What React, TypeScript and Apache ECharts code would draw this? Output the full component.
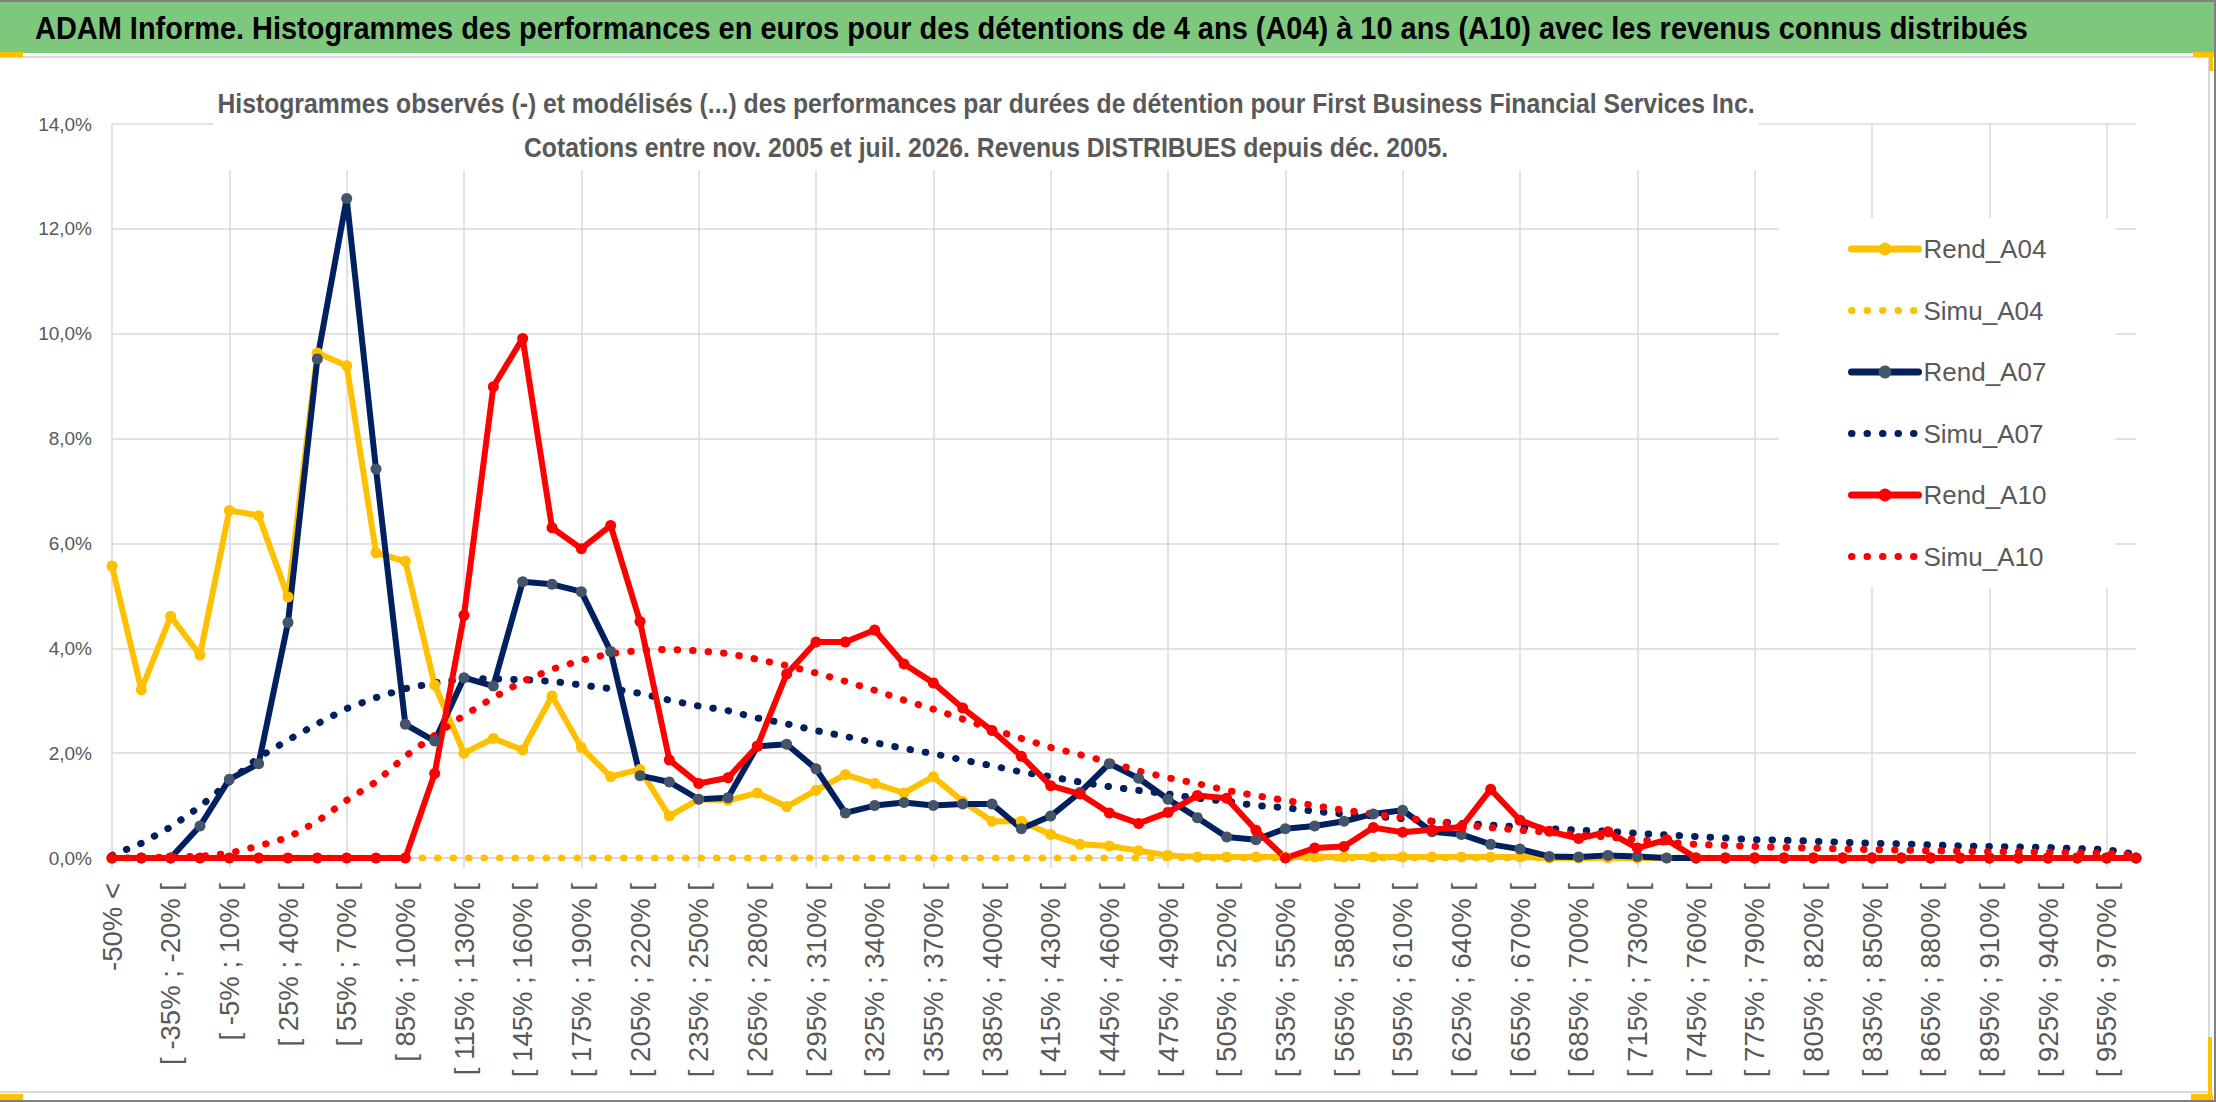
import * as echarts from "echarts";
import { useEffect, useRef } from "react";

const HEADER =
  "ADAM Informe. Histogrammes des performances en euros pour des détentions de 4 ans (A04) à 10 ans (A10) avec les revenus connus distribués";
const TITLE_1 =
  "Histogrammes observés (-) et modélisés (...) des performances par durées de détention pour First Business Financial Services Inc.";
const TITLE_2 = "Cotations entre nov. 2005 et juil. 2026. Revenus DISTRIBUES depuis déc. 2005.";

const CATEGORIES = [
  "-50% <", "[ -50% ; -35% [", "[ -35% ; -20% [", "[ -20% ; -5% [", "[ -5% ; 10% [",
  "[ 10% ; 25% [", "[ 25% ; 40% [", "[ 40% ; 55% [", "[ 55% ; 70% [", "[ 70% ; 85% [",
  "[ 85% ; 100% [", "[ 100% ; 115% [", "[ 115% ; 130% [", "[ 130% ; 145% [", "[ 145% ; 160% [",
  "[ 160% ; 175% [", "[ 175% ; 190% [", "[ 190% ; 205% [", "[ 205% ; 220% [", "[ 220% ; 235% [",
  "[ 235% ; 250% [", "[ 250% ; 265% [", "[ 265% ; 280% [", "[ 280% ; 295% [", "[ 295% ; 310% [",
  "[ 310% ; 325% [", "[ 325% ; 340% [", "[ 340% ; 355% [", "[ 355% ; 370% [", "[ 370% ; 385% [",
  "[ 385% ; 400% [", "[ 400% ; 415% [", "[ 415% ; 430% [", "[ 430% ; 445% [", "[ 445% ; 460% [",
  "[ 460% ; 475% [", "[ 475% ; 490% [", "[ 490% ; 505% [", "[ 505% ; 520% [", "[ 520% ; 535% [",
  "[ 535% ; 550% [", "[ 550% ; 565% [", "[ 565% ; 580% [", "[ 580% ; 595% [", "[ 595% ; 610% [",
  "[ 610% ; 625% [", "[ 625% ; 640% [", "[ 640% ; 655% [", "[ 655% ; 670% [", "[ 670% ; 685% [",
  "[ 685% ; 700% [", "[ 700% ; 715% [", "[ 715% ; 730% [", "[ 730% ; 745% [", "[ 745% ; 760% [",
  "[ 760% ; 775% [", "[ 775% ; 790% [", "[ 790% ; 805% [", "[ 805% ; 820% [", "[ 820% ; 835% [",
  "[ 835% ; 850% [", "[ 850% ; 865% [", "[ 865% ; 880% [", "[ 880% ; 895% [", "[ 895% ; 910% [",
  "[ 910% ; 925% [", "[ 925% ; 940% [", "[ 940% ; 955% [", "[ 955% ; 970% [", "[ 970% ; 985% [",
];

// values in %
const REND_A04 = [
  5.57, 3.21, 4.61, 3.87, 6.63, 6.53, 4.98, 9.63, 9.39, 5.82,
  5.66, 3.3, 2.0, 2.28, 2.06, 3.09, 2.11, 1.55, 1.69, 0.8,
  1.12, 1.1, 1.24, 0.98, 1.29, 1.59, 1.42, 1.24, 1.55, 1.08,
  0.7, 0.7, 0.45, 0.26, 0.23, 0.14, 0.05, 0.02, 0.02, 0.02,
  0.02, 0.02, 0.02, 0.02, 0.02, 0.02, 0.02, 0.02, 0.02, 0,
  0, 0, 0, 0, 0, 0, 0, 0, 0, 0,
  0, 0, 0, 0, 0, 0, 0, 0, 0, 0,
];
const SIMU_A04 = [
  0, 0, 0, 0, 0, 0, 0, 0, 0, 0,
  0, 0, 0, 0, 0, 0, 0, 0, 0, 0,
  0, 0, 0, 0, 0, 0, 0, 0, 0, 0,
  0, 0, 0, 0, 0, 0, 0, 0, 0, 0,
  0, 0, 0, 0, 0, 0, 0, 0, 0, 0,
  0, 0, 0, 0, 0, 0, 0, 0, 0, 0,
  0, 0, 0, 0, 0, 0, 0, 0, 0, 0,
];
const REND_A07 = [
  0, 0, 0, 0.61, 1.5, 1.8, 4.49, 9.52, 12.58, 7.42,
  2.55, 2.23, 3.44, 3.28, 5.27, 5.22, 5.08, 3.94, 1.57, 1.45,
  1.12, 1.15, 2.13, 2.17, 1.7, 0.86, 1.0, 1.06, 1.0, 1.03,
  1.03, 0.56, 0.8, 1.25, 1.8, 1.52, 1.12, 0.77, 0.4, 0.35,
  0.56, 0.61, 0.7, 0.84, 0.91, 0.5, 0.45, 0.26, 0.17, 0.03,
  0.02, 0.05, 0.03, 0, 0, 0, 0, 0, 0, 0,
  0, 0, 0, 0, 0, 0, 0, 0, 0, 0,
];
const SIMU_A07 = [
  0.05, 0.28, 0.59, 0.98, 1.45, 1.92, 2.25, 2.56, 2.85, 3.06,
  3.23, 3.34, 3.42, 3.42, 3.4, 3.37, 3.3, 3.23, 3.14, 3.01,
  2.9, 2.81, 2.67, 2.56, 2.43, 2.32, 2.2, 2.09, 1.99, 1.87,
  1.76, 1.64, 1.55, 1.45, 1.36, 1.29, 1.22, 1.14, 1.08, 1.0,
  0.96, 0.89, 0.84, 0.8, 0.75, 0.7, 0.66, 0.63, 0.59, 0.56,
  0.53, 0.51, 0.47, 0.44, 0.41, 0.38, 0.35, 0.34, 0.32, 0.3,
  0.28, 0.27, 0.25, 0.23, 0.22, 0.21, 0.2, 0.18, 0.16, 0.07,
];
const REND_A10 = [
  0, 0, 0, 0, 0, 0, 0, 0, 0, 0,
  0, 1.61, 4.63, 8.99, 9.91, 6.3, 5.9, 6.34, 4.51, 1.87,
  1.42, 1.53, 2.13, 3.51, 4.12, 4.12, 4.35, 3.7, 3.34, 2.86,
  2.43, 1.94, 1.38, 1.22, 0.86, 0.66, 0.87, 1.19, 1.14, 0.53,
  0, 0.19, 0.22, 0.58, 0.49, 0.54, 0.59, 1.31, 0.72, 0.51,
  0.37, 0.5, 0.19, 0.35, 0, 0, 0, 0, 0, 0,
  0, 0, 0, 0, 0, 0, 0, 0, 0, 0,
];
const SIMU_A10 = [
  0, 0, 0.02, 0.03, 0.09, 0.23, 0.39, 0.7, 1.1, 1.45,
  1.94, 2.34, 2.72, 3.06, 3.37, 3.6, 3.77, 3.9, 3.96, 3.98,
  3.95, 3.9, 3.79, 3.67, 3.53, 3.37, 3.2, 3.01, 2.84, 2.65,
  2.46, 2.28, 2.11, 1.97, 1.83, 1.66, 1.53, 1.42, 1.29, 1.19,
  1.1, 1.0, 0.91, 0.84, 0.77, 0.7, 0.63, 0.58, 0.53, 0.49,
  0.44, 0.4, 0.35, 0.3, 0.26, 0.24, 0.22, 0.2, 0.19, 0.17,
  0.16, 0.15, 0.14, 0.13, 0.12, 0.12, 0.11, 0.1, 0.09, 0.06,
];

const FONT = "'Liberation Sans', Arial, sans-serif";
const GREY_TEXT = "#595959";
const GRID_LINE = "#D9D9D9";
const YELLOW = "#FFC000";
const NAVY = "#002060";
const RED = "#FF0000";

function rendSeries(name: string, data: number[], color: string, marker: string) {
  return {
    name,
    type: "line",
    data,
    symbol: "circle",
    symbolSize: 11,
    lineStyle: { color, width: 6 },
    itemStyle: { color: marker },
  };
}

function simuSeries(name: string, data: number[], color: string) {
  return {
    name,
    type: "line",
    data,
    symbol: "none",
    lineStyle: { color, width: 7, type: [0.5, 15], cap: "round" },
    itemStyle: { color },
  };
}

export default function App() {
  const ref = useRef<HTMLDivElement | null>(null);

  useEffect(() => {
    if (!ref.current) return;
    const chart = echarts.init(ref.current, undefined, { renderer: "svg" });

    const yellowMark = (x: number, y: number, w: number, h: number) => ({
      type: "rect",
      shape: { x, y, width: w, height: h },
      style: { fill: YELLOW },
      z: 12,
    });

    // squeezed bold text, as in the Excel export
    const boldText = (text: string, x: number, y: number, size: number, sx: number, fill: string, align: string) => ({
      type: "text",
      x,
      y,
      scaleX: sx,
      style: {
        text,
        fill,
        fontSize: size,
        fontWeight: "bold",
        fontFamily: FONT,
        align,
        verticalAlign: "middle",
      },
      z: 12,
    });

    chart.setOption({
      animation: false,
      backgroundColor: "#ffffff",
      grid: { left: 112, right: 80, top: 124, bottom: 244 },
      legend: {
        orient: "vertical",
        left: 1779,
        top: 218,
        padding: [18, 69, 18, 69],
        itemGap: 35.5,
        itemWidth: 67,
        itemHeight: 16,
        backgroundColor: "#ffffff",
        textStyle: { fontSize: 26, color: GREY_TEXT, fontFamily: FONT },
        lineStyle: { width: 7, cap: "round" },
        data: [
          { name: "Rend_A04" },
          { name: "Simu_A04", itemStyle: { opacity: 0 } },
          { name: "Rend_A07" },
          { name: "Simu_A07", itemStyle: { opacity: 0 } },
          { name: "Rend_A10" },
          { name: "Simu_A10", itemStyle: { opacity: 0 } },
        ],
      },
      xAxis: {
        type: "category",
        data: CATEGORIES,
        boundaryGap: false,
        axisLine: { lineStyle: { color: GRID_LINE, width: 1.5 } },
        axisTick: { show: true, interval: 3, length: 10, lineStyle: { color: GRID_LINE, width: 1.5 } },
        splitLine: { show: true, interval: 3, lineStyle: { color: GRID_LINE, width: 1.5 } },
        axisLabel: {
          interval: 1,
          rotate: 90,
          fontSize: 27.5,
          color: GREY_TEXT,
          margin: 25,
          fontFamily: FONT,
        },
      },
      yAxis: {
        type: "value",
        min: 0,
        max: 14,
        interval: 2,
        axisLine: { show: false },
        axisTick: { show: false },
        splitLine: { lineStyle: { color: GRID_LINE, width: 1.5 } },
        axisLabel: {
          formatter: (v: number) => v.toFixed(1).replace(".", ",") + "%",
          fontSize: 19,
          color: GREY_TEXT,
          fontFamily: FONT,
          margin: 20,
        },
      },
      series: [
        rendSeries("Rend_A04", REND_A04, YELLOW, YELLOW),
        simuSeries("Simu_A04", SIMU_A04, YELLOW),
        rendSeries("Rend_A07", REND_A07, NAVY, "#44546A"),
        simuSeries("Simu_A07", SIMU_A07, NAVY),
        rendSeries("Rend_A10", REND_A10, RED, RED),
        simuSeries("Simu_A10", SIMU_A10, RED),
      ],
      graphic: [
        // green banner
        { type: "rect", shape: { x: 0, y: 0, width: 2216, height: 53 }, style: { fill: "#7DC87D" }, z: 10 },
        { type: "rect", shape: { x: 0, y: 0, width: 2216, height: 2 }, style: { fill: "#7F7F7F" }, z: 11 },
        boldText(HEADER, 35, 28, 31, 0.934, "#000000", "left"),
        // chart frame
        { type: "line", shape: { x1: 0, y1: 57, x2: 2209, y2: 57 }, style: { stroke: GRID_LINE, lineWidth: 2 }, z: 10 },
        { type: "line", shape: { x1: 2209, y1: 57, x2: 2209, y2: 1092 }, style: { stroke: GRID_LINE, lineWidth: 2 }, z: 10 },
        { type: "line", shape: { x1: 0, y1: 1092, x2: 2209, y2: 1092 }, style: { stroke: GRID_LINE, lineWidth: 2 }, z: 10 },
        { type: "rect", shape: { x: 2214, y: 0, width: 2, height: 1102 }, style: { fill: "#7F7F7F" }, z: 11 },
        { type: "rect", shape: { x: 0, y: 1100, width: 2216, height: 2 }, style: { fill: "#7F7F7F" }, z: 11 },
        yellowMark(0, 52, 23, 5),
        yellowMark(2193, 52, 21, 5),
        yellowMark(2209, 52, 4, 19),
        yellowMark(0, 1094, 23, 6),
        yellowMark(2191, 1094, 22, 6),
        yellowMark(2208, 1037, 4, 63),
        // chart title box
        { type: "rect", shape: { x: 213, y: 60, width: 1546, height: 110 }, style: { fill: "#ffffff" }, z: 10 },
        boldText(TITLE_1, 986, 103, 28, 0.883, GREY_TEXT, "center"),
        boldText(TITLE_2, 986, 147, 28, 0.883, GREY_TEXT, "center"),
      ],
    });

    return () => {
      chart.dispose();
    };
  }, []);

  return (
    <div
      ref={ref}
      style={{ position: "absolute", left: 0, top: 0, width: 2216, height: 1102, background: "#ffffff" }}
    />
  );
}
